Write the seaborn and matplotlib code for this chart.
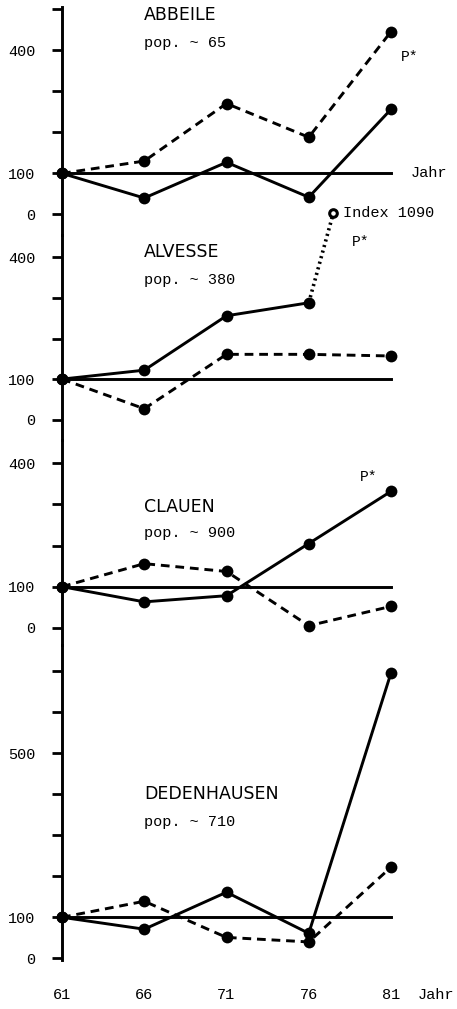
import matplotlib.pyplot as plt
import seaborn as sns

# Index values (1961 = 100)
years = [61, 66, 71, 76, 81]

abbeile_solid = [100, 40, 127, 42, 256]
abbeile_dashed = [100, 130, 270, 188, 445]
alvesse_solid = [100, 122, 256, 288]
alvesse_dashed = [100, 27, 161, 161, 157]
clauen_solid = [100, 63, 78, 205, 332]
clauen_dashed = [100, 156, 137, 5, 52]
dedenhausen_solid = [100, 71, 161, 61, 695]
dedenhausen_dashed = [100, 139, 51, 40, 222]

# Alvesse 1981 is off the scale (index 1090): drawn as a dotted jump
alvesse_jump_years = [76, 77.5]
alvesse_jump_values = [288, 510]
alvesse_index_label = 'Index 1090'

names = ['ABBEILE', 'ALVESSE', 'CLAUEN', 'DEDENHAUSEN']
pops = ['pop. ~ 65', 'pop. ~ 380', 'pop. ~ 900', 'pop. ~ 710']
base = 100

sns.set_style('white', rc={'text.color': 'black', 'axes.edgecolor': 'black',
                           'xtick.color': 'black', 'ytick.color': 'black',
                           'axes.labelcolor': 'black'})
mono = ['Liberation Mono', 'DejaVu Sans Mono']
narrow = ['Liberation Sans Narrow', 'DejaVu Sans']

W, H = 457, 1009
fig = plt.figure(figsize=(W / 100, H / 100), dpi=100)

# panel layout in pixels (top, bottom) and y limits
px_left, px_right = 62, 391
panel_px = [(7, 235), (235, 440), (440, 645), (645, 960)]
ylims = [(-50, 505), (-50, 455), (-42, 457), (-4, 763)]
yticks = [[0, 100, 200, 300, 400, 500], [0, 100, 200, 300, 400],
          [0, 100, 200, 300, 400], [0, 100, 200, 300, 400, 500, 600, 700]]
ylabels_shown = [[0, 100, 400], [0, 100, 400], [0, 100, 400], [0, 100, 500]]
title_pos = [(66, 485, 417), (66, 413, 344), (66, 294, 231), (66, 400, 332)]

solids = [abbeile_solid, alvesse_solid, clauen_solid, dedenhausen_solid]
dasheds = [abbeile_dashed, alvesse_dashed, clauen_dashed, dedenhausen_dashed]

lw = 2.1
axes = []
for i in range(4):
    top, bot = panel_px[i]
    ax = fig.add_axes([px_left / W, 1 - bot / H, (px_right - px_left) / W, (bot - top) / H])
    ax.set_facecolor('none')
    ax.set_xlim(61, 81)
    ax.set_ylim(*ylims[i])

    s = solids[i]
    sns.lineplot(x=years[:len(s)], y=s, ax=ax, color='black', lw=lw, marker='o',
                 markersize=8.5, markeredgewidth=0, clip_on=False)
    sns.lineplot(x=years, y=dasheds[i], ax=ax, color='black', lw=lw, marker='o',
                 markersize=8.5, markeredgewidth=0, clip_on=False,
                 linestyle=(0, (3.0, 2.0)))

    # spines
    for side in ['top', 'right']:
        ax.spines[side].set_visible(False)
    ax.spines['left'].set_linewidth(2.1)
    ax.spines['bottom'].set_position(('data', base))
    ax.spines['bottom'].set_linewidth(2.1)
    ax.set_xticks(years[1:])
    ax.tick_params(axis='x', direction='out', length=3.5, width=2, labelbottom=False)
    ax.set_yticks(yticks[i])
    ax.set_yticklabels([str(t) if t in ylabels_shown[i] else '' for t in yticks[i]],
                       fontfamily=mono, fontsize=11)
    ax.tick_params(axis='y', direction='out', length=7, width=2, pad=12, left=True)
    ax.grid(False)

    tx, ty1, ty2 = title_pos[i]
    ax.text(tx, ty1, names[i], fontfamily=narrow, fontsize=12.5, va='center', ha='left')
    ax.text(tx, ty2, pops[i], fontfamily=mono, fontsize=11, va='center', ha='left')
    axes.append(ax)

# annotations
axes[0].text(82.2, base, 'Jahr', fontfamily=mono, fontsize=11, va='center', ha='left',
             clip_on=False)
axes[0].text(81.6, 383, 'P*', fontfamily=mono, fontsize=10.5, va='center', ha='left')

ax2 = axes[1]
sns.lineplot(x=alvesse_jump_years, y=alvesse_jump_values, ax=ax2, color='black', lw=2.6,
             linestyle=(0, (0.6, 1.0)), clip_on=False)
sns.scatterplot(x=alvesse_jump_years[-1:], y=alvesse_jump_values[-1:], ax=ax2, s=30,
                facecolor='white', edgecolor='black', linewidth=2.2, clip_on=False, zorder=5)
ax2.text(78.1, alvesse_jump_values[-1], alvesse_index_label, fontfamily=mono, fontsize=11,
         va='center', ha='left', clip_on=False)
ax2.text(78.6, 438, 'P*', fontfamily=mono, fontsize=10.5, va='center', ha='left')

axes[2].text(79.1, 367, 'P*', fontfamily=mono, fontsize=10.5, va='center', ha='left')

ax4 = axes[3]
for y in years:
    ax4.text(y, -0.111, str(y), transform=ax4.get_xaxis_transform(), fontfamily=mono,
             fontsize=11, ha='center', va='center', clip_on=False)
ax4.text(82.6, -0.111, 'Jahr', transform=ax4.get_xaxis_transform(), fontfamily=mono,
         fontsize=11, ha='left', va='center', clip_on=False)

fig.savefig('out.png', dpi=100)
